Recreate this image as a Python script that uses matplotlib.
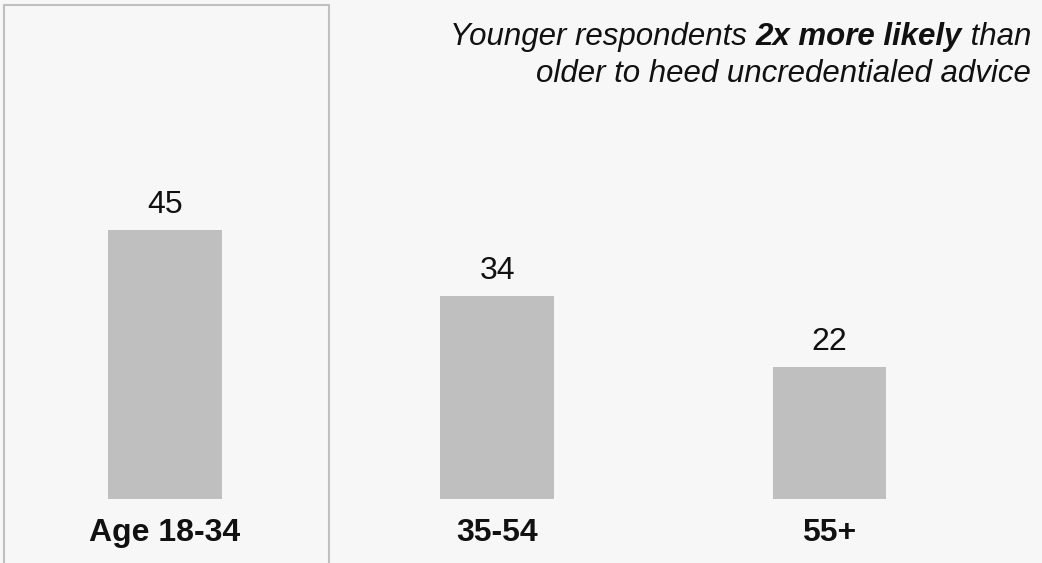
import matplotlib
matplotlib.use("Agg")
import matplotlib.pyplot as plt
from matplotlib.patches import Rectangle

# Share (%) of respondents by age group
categories = ["Age 18-34", "35-54", "55+"]
values = [45, 34, 22]

title_line1 = ["Younger respondents ", "2x more likely", " than"]
title_line2 = "older to heed uncredentialed advice"

BG = "#f7f7f7"
BAR = "#bfbfbf"
INK = "#111111"
FONT = "Liberation Sans"
FS = 23

W, H, DPI = 1042, 563, 100
PT = 72 / DPI  # points per pixel
fig = plt.figure(figsize=(W / DPI, H / DPI), dpi=DPI, facecolor=BG)
ax = fig.add_axes([0, 0, 1, 1])
ax.set_facecolor(BG)

x = list(range(len(categories)))
ax.bar(x, values, width=0.343, color=BAR, zorder=2)

ax.set_xlim(-0.4966, 2.6396)
ax.set_ylim(-10.70, 83.44)
ax.axis("off")

for xi, v in zip(x, values):
    ax.annotate(f"{v}", xy=(xi, v), xytext=(0, 17 * PT), textcoords="offset points",
                ha="center", va="baseline", fontsize=FS, color=INK, family=FONT)

for xi, c in zip(x, categories):
    ax.annotate(c, xy=(xi, 0), xytext=(0, -42 * PT), textcoords="offset points",
                ha="center", va="baseline", fontsize=FS, fontweight="bold",
                color=INK, family=FONT)

# Highlight frame around the youngest group
frame = Rectangle((4 / W, -0.05), 325 / W, 1.05 - 5 / H, transform=fig.transFigure,
                  fill=False, edgecolor="#c0c0c0", linewidth=1.5, zorder=1)
fig.patches.append(frame)

# Two-line headline, right-aligned, with bold emphasis in the first line
x_right = 1031 / W
y1 = 1 - 45 / H
y2 = 1 - 82 / H
TFS = 22.5
styles = ["normal", "bold", "normal"]
prev = None
for part, wt in zip(reversed(title_line1), reversed(styles)):
    kw = dict(ha="right", fontsize=TFS, style="italic", fontweight=wt,
              color=INK, family=FONT)
    if prev is None:
        prev = fig.text(x_right, y1, part, va="baseline", **kw)
    else:
        prev = ax.annotate(part, xy=(0, 0), xycoords=prev, va="bottom", **kw)
fig.text(x_right, y2, title_line2, ha="right", va="baseline", fontsize=TFS,
         style="italic", color=INK, family=FONT)

fig.savefig("out.png", dpi=DPI, facecolor=BG)
